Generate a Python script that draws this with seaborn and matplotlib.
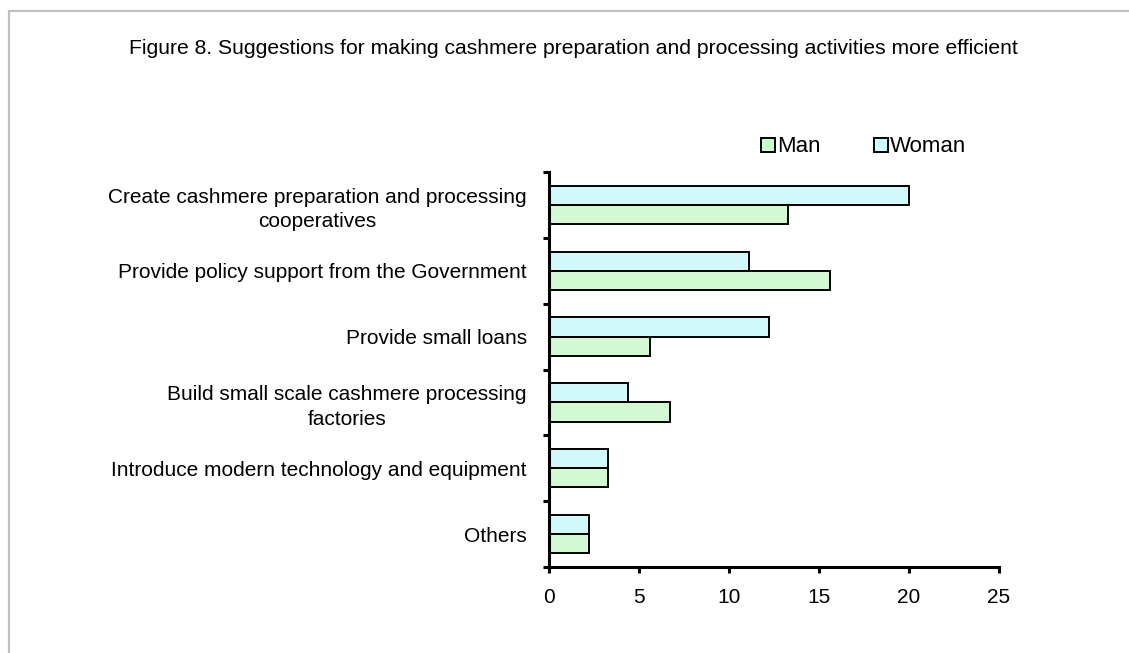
import matplotlib
matplotlib.use("Agg")
import matplotlib.pyplot as plt
from matplotlib.patches import Patch
from matplotlib.lines import Line2D
import seaborn as sns
import pandas as pd

# Survey responses (percent) by suggestion
suggestions = [
    "Create cashmere preparation and processing\ncooperatives",
    "Provide policy support from the Government",
    "Provide small loans",
    "Build small scale cashmere processing\nfactories",
    "Introduce modern technology and equipment",
    "Others",
]
woman = [20.0, 11.1, 12.2, 4.4, 3.3, 2.2]
man = [13.3, 15.6, 5.6, 6.7, 3.3, 2.2]
x_ticks = [0, 5, 10, 15, 20, 25]

title = ("Figure 8. Suggestions for making cashmere preparation and "
         "processing activities more efficient")

colors = {"Woman": "#CCFFFF", "Man": "#CCFFCC"}

df = pd.DataFrame({
    "suggestion": suggestions * 2,
    "value": woman + man,
    "gender": ["Woman"] * len(suggestions) + ["Man"] * len(suggestions),
})

sns.set_theme(style="white")
plt.rcParams["font.family"] = ["Liberation Sans", "DejaVu Sans"]
plt.rcParams["text.color"] = "black"
plt.rcParams["xtick.color"] = "black"
plt.rcParams["ytick.color"] = "black"

fig = plt.figure(figsize=(11.29, 6.53), dpi=100)
ax = fig.add_axes([549 / 1129, 1 - 567 / 653, 450 / 1129, 395 / 653])

sns.barplot(
    data=df, x="value", y="suggestion", hue="gender",
    hue_order=["Woman", "Man"], palette=colors, orient="h",
    width=0.58, gap=0, edgecolor="black", linewidth=1.4,
    legend=False, ax=ax,
)

ax.set_xlim(0, 25)
ax.set_ylim(len(suggestions) - 0.5, -0.5)
ax.set_xticks(x_ticks)
ax.set_xticklabels([str(t) for t in x_ticks], fontsize=15)
ax.set_yticks(range(len(suggestions)))
ax.set_yticklabels(suggestions, fontsize=15, multialignment="center",
                   linespacing=1.35)
ax.set_yticks([i - 0.5 for i in range(len(suggestions) + 1)], minor=True)
ax.tick_params(axis="y", which="major", length=0, pad=16)
ax.tick_params(axis="y", which="minor", length=4, width=2.2, direction="out",
               color="black", left=True)
ax.tick_params(axis="x", which="major", length=4, width=2.2, direction="out",
               color="black", bottom=True, pad=11)
ax.set_xlabel("")
ax.set_ylabel("")

for side in ("top", "right"):
    ax.spines[side].set_visible(False)
for side in ("left", "bottom"):
    ax.spines[side].set_color("black")
    ax.spines[side].set_linewidth(2.2)

# Legend: Man first, then Woman
handles = [
    Patch(facecolor=colors["Man"], edgecolor="black", linewidth=1.4, label="Man"),
    Patch(facecolor=colors["Woman"], edgecolor="black", linewidth=1.4, label="Woman"),
]
fig.legend(
    handles=handles, loc="center", bbox_to_anchor=(864 / 1129, 1 - 147 / 653),
    ncol=2, frameon=False, fontsize=16, handlelength=0.6, handleheight=0.6,
    handletextpad=0.12, columnspacing=2.4, borderpad=0,
)

fig.text(573 / 1129, 1 - 48 / 653, title,
         ha="center", va="center", fontsize=15.2)

# Light frame along the top and left edges
fig.add_artist(Line2D([8.5 / 1129, 1], [1 - 10.5 / 653] * 2,
                      color="#c0c0c0", linewidth=1.6, transform=fig.transFigure))
fig.add_artist(Line2D([8.5 / 1129] * 2, [1 - 10.5 / 653, 0],
                      color="#c0c0c0", linewidth=1.6, transform=fig.transFigure))

fig.savefig("out.png", dpi=100, facecolor="white")
